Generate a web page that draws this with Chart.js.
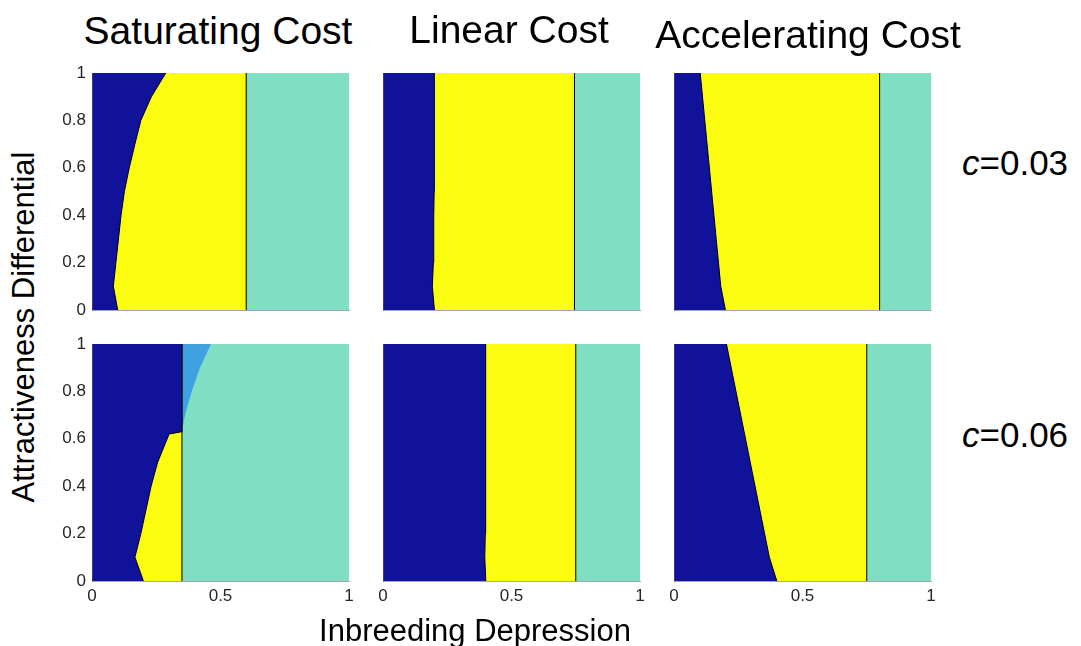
<!DOCTYPE html>
<html>
<head>
<meta charset="utf-8">
<script src="https://cdn.jsdelivr.net/npm/chart.js@4.4.1/dist/chart.umd.min.js"></script>
<style>
  body { margin: 0; background: #fff; }
  #fig { position: relative; width: 1081px; height: 646px; overflow: hidden;
         font-family: Helvetica, Arial, "Liberation Sans", sans-serif; color: #000; }
  .panel { position: absolute; }
  .txt { position: absolute; white-space: nowrap; line-height: 1; }
</style>
</head>
<body>
<div id="fig"></div>
<script>
const NAVY = '#10129a';
const YELLOW = '#fcfc10';
const TEAL = '#80dfc3';
const BLUE = '#3fa2e0';
const FONT = 'Helvetica, Arial, "Liberation Sans", sans-serif';

const costTitles = ['Saturating Cost', 'Linear Cost', 'Accelerating Cost'];
const costValues = ['0.03', '0.06'];
const xTicks = [0, 0.5, 1];
const xTickLabels = ['0', '0.5', '1'];
const yTicks = [0, 0.2, 0.4, 0.6, 0.8, 1];
const yTickLabels = ['0', '0.2', '0.4', '0.6', '0.8', '1'];

// region boundaries: x position of the edge at each y
const FULL_Y = [0, 1];
const tealX = [1, 1];

// c = 0.03
const satA_navyY = [0, 0.1, 0.2, 0.3, 0.4, 0.5, 0.6, 0.7, 0.8, 0.9, 1];
const satA_navyX = [0.10, 0.083, 0.093, 0.103, 0.113, 0.126, 0.145, 0.167, 0.19, 0.231, 0.287];
const satA_yellowX = [0.6, 0.6];
const linA_navyY = [0, 0.1, 0.2, 0.3, 0.4, 0.5, 1];
const linA_navyX = [0.2, 0.192, 0.196, 0.197, 0.198, 0.199, 0.2];
const linA_yellowX = [0.745, 0.745];
const accA_navyY = [0, 0.1, 1];
const accA_navyX = [0.2, 0.182, 0.102];
const accA_yellowX = [0.8, 0.8];

// c = 0.06
const satB_navyY = [0, 0.1, 0.2, 0.3, 0.4, 0.5, 0.62, 0.63, 1];
const satB_navyX = [0.2, 0.167, 0.19, 0.21, 0.23, 0.255, 0.30, 0.35, 0.35];
const satB_yellowX = [0.35, 0.35];
const satB_blueY = [0.63, 0.7, 0.8, 0.9, 1];
const satB_blueX = [0.35, 0.362, 0.388, 0.42, 0.463];
const linB_navyY = [0, 0.1, 0.2, 0.3, 1];
const linB_navyX = [0.4, 0.396, 0.398, 0.399, 0.4];
const linB_yellowX = [0.75, 0.75];
const accB_navyY = [0, 0.1, 1];
const accB_navyX = [0.4, 0.371, 0.204];
const accB_yellowX = [0.75, 0.75];

// layers listed top first: [xs, ys, colour, black edge]
const panels = [
  { row: 0, col: 0, layers: [[satA_navyX, satA_navyY, NAVY, true], [satA_yellowX, FULL_Y, YELLOW, true], [tealX, FULL_Y, TEAL, false]] },
  { row: 0, col: 1, layers: [[linA_navyX, linA_navyY, NAVY, true], [linA_yellowX, FULL_Y, YELLOW, true], [tealX, FULL_Y, TEAL, false]] },
  { row: 0, col: 2, layers: [[accA_navyX, accA_navyY, NAVY, true], [accA_yellowX, FULL_Y, YELLOW, true], [tealX, FULL_Y, TEAL, false]] },
  { row: 1, col: 0, layers: [[satB_navyX, satB_navyY, NAVY, true], [satB_yellowX, FULL_Y, YELLOW, true], [satB_blueX, satB_blueY, BLUE, false], [tealX, FULL_Y, TEAL, false]] },
  { row: 1, col: 1, layers: [[linB_navyX, linB_navyY, NAVY, true], [linB_yellowX, FULL_Y, YELLOW, true], [tealX, FULL_Y, TEAL, false]] },
  { row: 1, col: 2, layers: [[accB_navyX, accB_navyY, NAVY, true], [accB_yellowX, FULL_Y, YELLOW, true], [tealX, FULL_Y, TEAL, false]] },
];

const PL = [92, 383, 674];
const PT = [73, 344];
const PW = 257, PH = 237;
const M = { l: 50, t: 20, r: 22, b: 30 };

const fig = document.getElementById('fig');

function addText(html, css) {
  const d = document.createElement('div');
  d.className = 'txt';
  d.innerHTML = html;
  Object.assign(d.style, css);
  fig.appendChild(d);
}

panels.forEach(p => {
  const wrap = document.createElement('div');
  wrap.className = 'panel';
  wrap.style.left = (PL[p.col] - M.l) + 'px';
  wrap.style.top = (PT[p.row] - M.t) + 'px';
  const cv = document.createElement('canvas');
  cv.width = PW + M.l + M.r;
  cv.height = PH + M.t + M.b;
  wrap.appendChild(cv);
  fig.appendChild(wrap);

  const datasets = p.layers.map(([xs, ys, color, edge]) => ({
    data: ys.map((y, i) => ({ x: xs[i], y })),
    backgroundColor: color,
    borderColor: edge ? '#000' : 'rgba(0,0,0,0)',
    borderWidth: 1,
    fill: { value: 0 },
    tension: 0,
    pointRadius: 0,
  }));

  new Chart(cv, {
    type: 'line',
    data: { datasets },
    options: {
      indexAxis: 'y',
      responsive: false,
      animation: false,
      events: [],
      layout: { padding: { left: 0, top: M.t, right: M.r, bottom: 0 } },
      plugins: { legend: { display: false }, tooltip: { enabled: false } },
      scales: {
        x: {
          type: 'linear', min: 0, max: 1, position: 'bottom',
          afterFit: s => { s.height = M.b; },
          afterBuildTicks: s => { s.ticks = xTicks.map(v => ({ value: v })); },
          ticks: { display: p.row === 1, color: '#262626', font: { size: 17, family: FONT }, padding: 5,
                   maxRotation: 0, autoSkip: false, callback: (v, i) => xTickLabels[i] },
          grid: { display: false, drawTicks: false },
          border: { display: true, color: 'rgba(90,90,130,0.55)', width: 1, z: 1 },
        },
        y: {
          type: 'linear', min: 0, max: 1, position: 'left',
          afterFit: s => { s.width = M.l; },
          afterBuildTicks: s => { s.ticks = yTicks.map(v => ({ value: v })); },
          ticks: { display: p.col === 0, color: '#262626', font: { size: 17, family: FONT }, padding: 6,
                   autoSkip: false, callback: (v, i) => yTickLabels[i] },
          grid: { display: false, drawTicks: false },
          border: { display: true, color: 'rgba(90,90,130,0.55)', width: 1, z: 1 },
        },
      },
    },
  });
});

// column titles
const titleCx = [218, 509, 808];
const titleTop = [11, 10, 15];
costTitles.forEach((t, i) => addText(t, {
  left: titleCx[i] + 'px', top: titleTop[i] + 'px', fontSize: '39px', transform: 'translateX(-50%)'
}));

// row labels
const rowTop = [145, 417];
costValues.forEach((v, i) => addText('<i>c</i>=' + v, {
  left: '962px', top: rowTop[i] + 'px', fontSize: '35px'
}));

addText('Inbreeding Depression', { left: '475px', top: '615px', fontSize: '31px', transform: 'translateX(-50%)' });
addText('Attractiveness Differential', { left: '23px', top: '327px', fontSize: '31px', transform: 'translate(-50%,-50%) rotate(-90deg)' });
</script>
</body>
</html>
